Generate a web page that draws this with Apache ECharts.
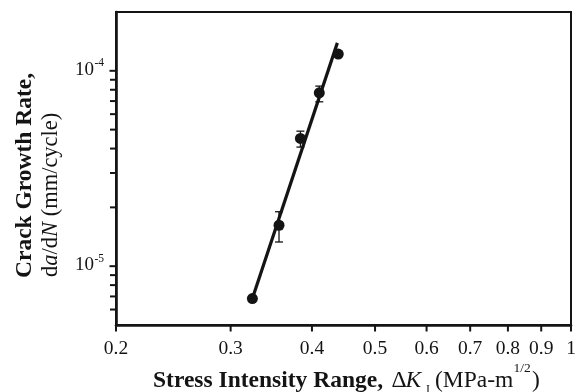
<!DOCTYPE html>
<html>
<head>
<meta charset="utf-8">
<script src="https://cdn.jsdelivr.net/npm/echarts@6/dist/echarts.min.js"></script>
<style>
html,body{margin:0;padding:0;background:#fff;}
#chart{width:576px;height:392px;}
</style>
</head>
<body>
<div id="chart"></div>
<script>
// ---- data ----
const xTicks = [0.2, 0.3, 0.4, 0.5, 0.6, 0.7, 0.8, 0.9, 1];
const xTickLabels = ['0.2', '0.3', '0.4', '0.5', '0.6', '0.7', '0.8', '0.9', '1'];
const yMajorTicks = [1e-5, 1e-4];
const yMajorExponents = ['-5', '-4'];
const yMinorTicks = [6e-6, 7e-6, 8e-6, 9e-6, 2e-5, 3e-5, 4e-5, 5e-5, 6e-5, 7e-5, 8e-5, 9e-5];
const xRange = [0.2, 1];
const yRange = [5e-6, 2e-4];

const deltaK = [0.324, 0.356, 0.384, 0.4105, 0.439];
const growthRate = [6.83e-6, 1.62e-5, 4.51e-5, 7.72e-5, 1.218e-4];
const errLow = [null, 1.33e-5, 4.07e-5, 6.94e-5, null];
const errHigh = [null, 1.90e-5, 4.91e-5, 8.35e-5, null];

const fitX = [0.324, 0.4376];
const fitY = [6.83e-6, 1.39e-4];

// ---- style ----
const ink = '#141414';
const serif = '"Liberation Serif", "Times New Roman", serif';

const chart = echarts.init(document.getElementById('chart'), null, {renderer: 'canvas'});

const scatterData = deltaK.map((x, i) => [x, growthRate[i]]);
const errData = [];
deltaK.forEach((x, i) => { if (errLow[i] != null) errData.push([x, errLow[i], errHigh[i]]); });
const fitData = fitX.map((x, i) => [x, fitY[i]]);

const option = {
  animation: false,
  backgroundColor: '#fff',
  grid: {left: 116, right: 5, top: 12, bottom: 67, show: true, borderColor: ink, borderWidth: 2, backgroundColor: 'transparent'},
  xAxis: {
    type: 'log', logBase: 10, min: xRange[0], max: xRange[1],
    axisLine: {show: true, lineStyle: {color: ink, width: 2.6}},
    axisTick: {show: false}, axisLabel: {show: false}, splitLine: {show: false}, minorTick: {show: false}
  },
  yAxis: {
    type: 'log', logBase: 10, min: yRange[0], max: yRange[1],
    axisLine: {show: true, lineStyle: {color: ink, width: 2.6}},
    axisTick: {show: false}, axisLabel: {show: false}, splitLine: {show: false}, minorTick: {show: false}
  },
  series: [
    {
      type: 'line', data: fitData, symbol: 'none', z: 3,
      lineStyle: {color: ink, width: 3.2, opacity: 1}
    },
    {
      type: 'custom', clip: false, z: 4,
      data: errData,
      renderItem: function (params, api) {
        const x = api.value(0);
        const lo = api.coord([x, api.value(1)]);
        const hi = api.coord([x, api.value(2)]);
        const w = 4;
        const st = {stroke: ink, lineWidth: 1.3};
        return {type: 'group', children: [
          {type: 'line', shape: {x1: lo[0], y1: lo[1], x2: hi[0], y2: hi[1]}, style: st},
          {type: 'line', shape: {x1: lo[0] - w, y1: lo[1], x2: lo[0] + w, y2: lo[1]}, style: st},
          {type: 'line', shape: {x1: hi[0] - w, y1: hi[1], x2: hi[0] + w, y2: hi[1]}, style: st}
        ]};
      }
    },
    {
      type: 'scatter', data: scatterData, symbol: 'circle', symbolSize: 11, z: 5,
      itemStyle: {color: ink, opacity: 1}
    },
    {
      // x ticks and labels
      type: 'custom', clip: false, z: 6,
      data: xTicks.map(v => [v, yRange[0]]),
      renderItem: function (params, api) {
        const p = api.coord([api.value(0), api.value(1)]);
        return {type: 'group', children: [
          {type: 'line', shape: {x1: p[0], y1: p[1], x2: p[0], y2: p[1] + 6.5}, style: {stroke: ink, lineWidth: 2}},
          {type: 'text', style: {text: xTickLabels[params.dataIndex], x: p[0], y: p[1] + 23.4, align: 'center', verticalAlign: 'middle',
            fontSize: 19.5, fontFamily: serif, fill: ink}}
        ]};
      }
    },
    {
      // y major ticks and labels
      type: 'custom', clip: false, z: 6,
      data: yMajorTicks.map(v => [xRange[0], v]),
      renderItem: function (params, api) {
        const p = api.coord([api.value(0), api.value(1)]);
        return {type: 'group', children: [
          {type: 'line', shape: {x1: p[0] - 6.5, y1: p[1], x2: p[0], y2: p[1]}, style: {stroke: ink, lineWidth: 2}},
          {type: 'text', style: {text: '10', x: p[0] - 22, y: p[1] - 1, align: 'right', verticalAlign: 'middle',
            fontSize: 19, fontFamily: serif, fill: ink}},
          {type: 'text', style: {text: yMajorExponents[params.dataIndex], x: p[0] - 21.5, y: p[1] - 7.5, align: 'left', verticalAlign: 'middle',
            fontSize: 11.5, fontFamily: serif, fill: ink}}
        ]};
      }
    },
    {
      // y minor ticks
      type: 'custom', clip: false, z: 6,
      data: yMinorTicks.map(v => [xRange[0], v]),
      renderItem: function (params, api) {
        const p = api.coord([api.value(0), api.value(1)]);
        return {type: 'line', shape: {x1: p[0] - 6, y1: p[1], x2: p[0], y2: p[1]}, style: {stroke: ink, lineWidth: 2}};
      }
    }
  ],
  graphic: [
    {type: 'text', x: 153, y: 380.5, style: {text: 'Stress Intensity Range,', align: 'left', verticalAlign: 'middle',
      fontSize: 23.5, fontWeight: 'bold', fontFamily: serif, fill: ink}},
    {type: 'text', x: 391.5, y: 380.5, style: {text: '\u0394', align: 'left', verticalAlign: 'middle',
      fontSize: 23.5, fontFamily: serif, fill: ink}},
    {type: 'text', x: 405.5, y: 380.5, style: {text: 'K', align: 'left', verticalAlign: 'middle',
      fontSize: 23.5, fontStyle: 'italic', fontFamily: serif, fill: ink}},
    {type: 'text', x: 426, y: 389.5, style: {text: 'I', align: 'left', verticalAlign: 'middle',
      fontSize: 12, fontFamily: serif, fill: ink}},
    {type: 'text', x: 435, y: 380.5, style: {text: '(MPa-m', align: 'left', verticalAlign: 'middle',
      fontSize: 23.5, fontFamily: serif, fill: ink}},
    {type: 'text', x: 513.5, y: 368, style: {text: '1/2', align: 'left', verticalAlign: 'middle',
      fontSize: 13.5, fontFamily: serif, fill: ink}},
    {type: 'text', x: 532, y: 380.5, style: {text: ')', align: 'left', verticalAlign: 'middle',
      fontSize: 23.5, fontFamily: serif, fill: ink}},
    {type: 'text', x: 25, y: 278, rotation: Math.PI / 2, style: {text: 'Crack Growth Rate,', align: 'left', verticalAlign: 'middle',
      fontSize: 23.5, fontWeight: 'bold', fontFamily: serif, fill: ink}},
    {type: 'text', x: 51.5, y: 277, rotation: Math.PI / 2, style: {
      text: '{n|d}{i|a}{n|/d}{i|N}{n| (mm/cycle)}', align: 'left', verticalAlign: 'middle',
      fontSize: 22.5, fontFamily: serif, fill: ink,
      rich: {
        n: {fontSize: 22.5, fontFamily: serif, fill: ink, color: ink},
        i: {fontSize: 22.5, fontFamily: serif, fontStyle: 'italic', fill: ink, color: ink}
      }}}
  ]
};
chart.setOption(option);
</script>
</body>
</html>
